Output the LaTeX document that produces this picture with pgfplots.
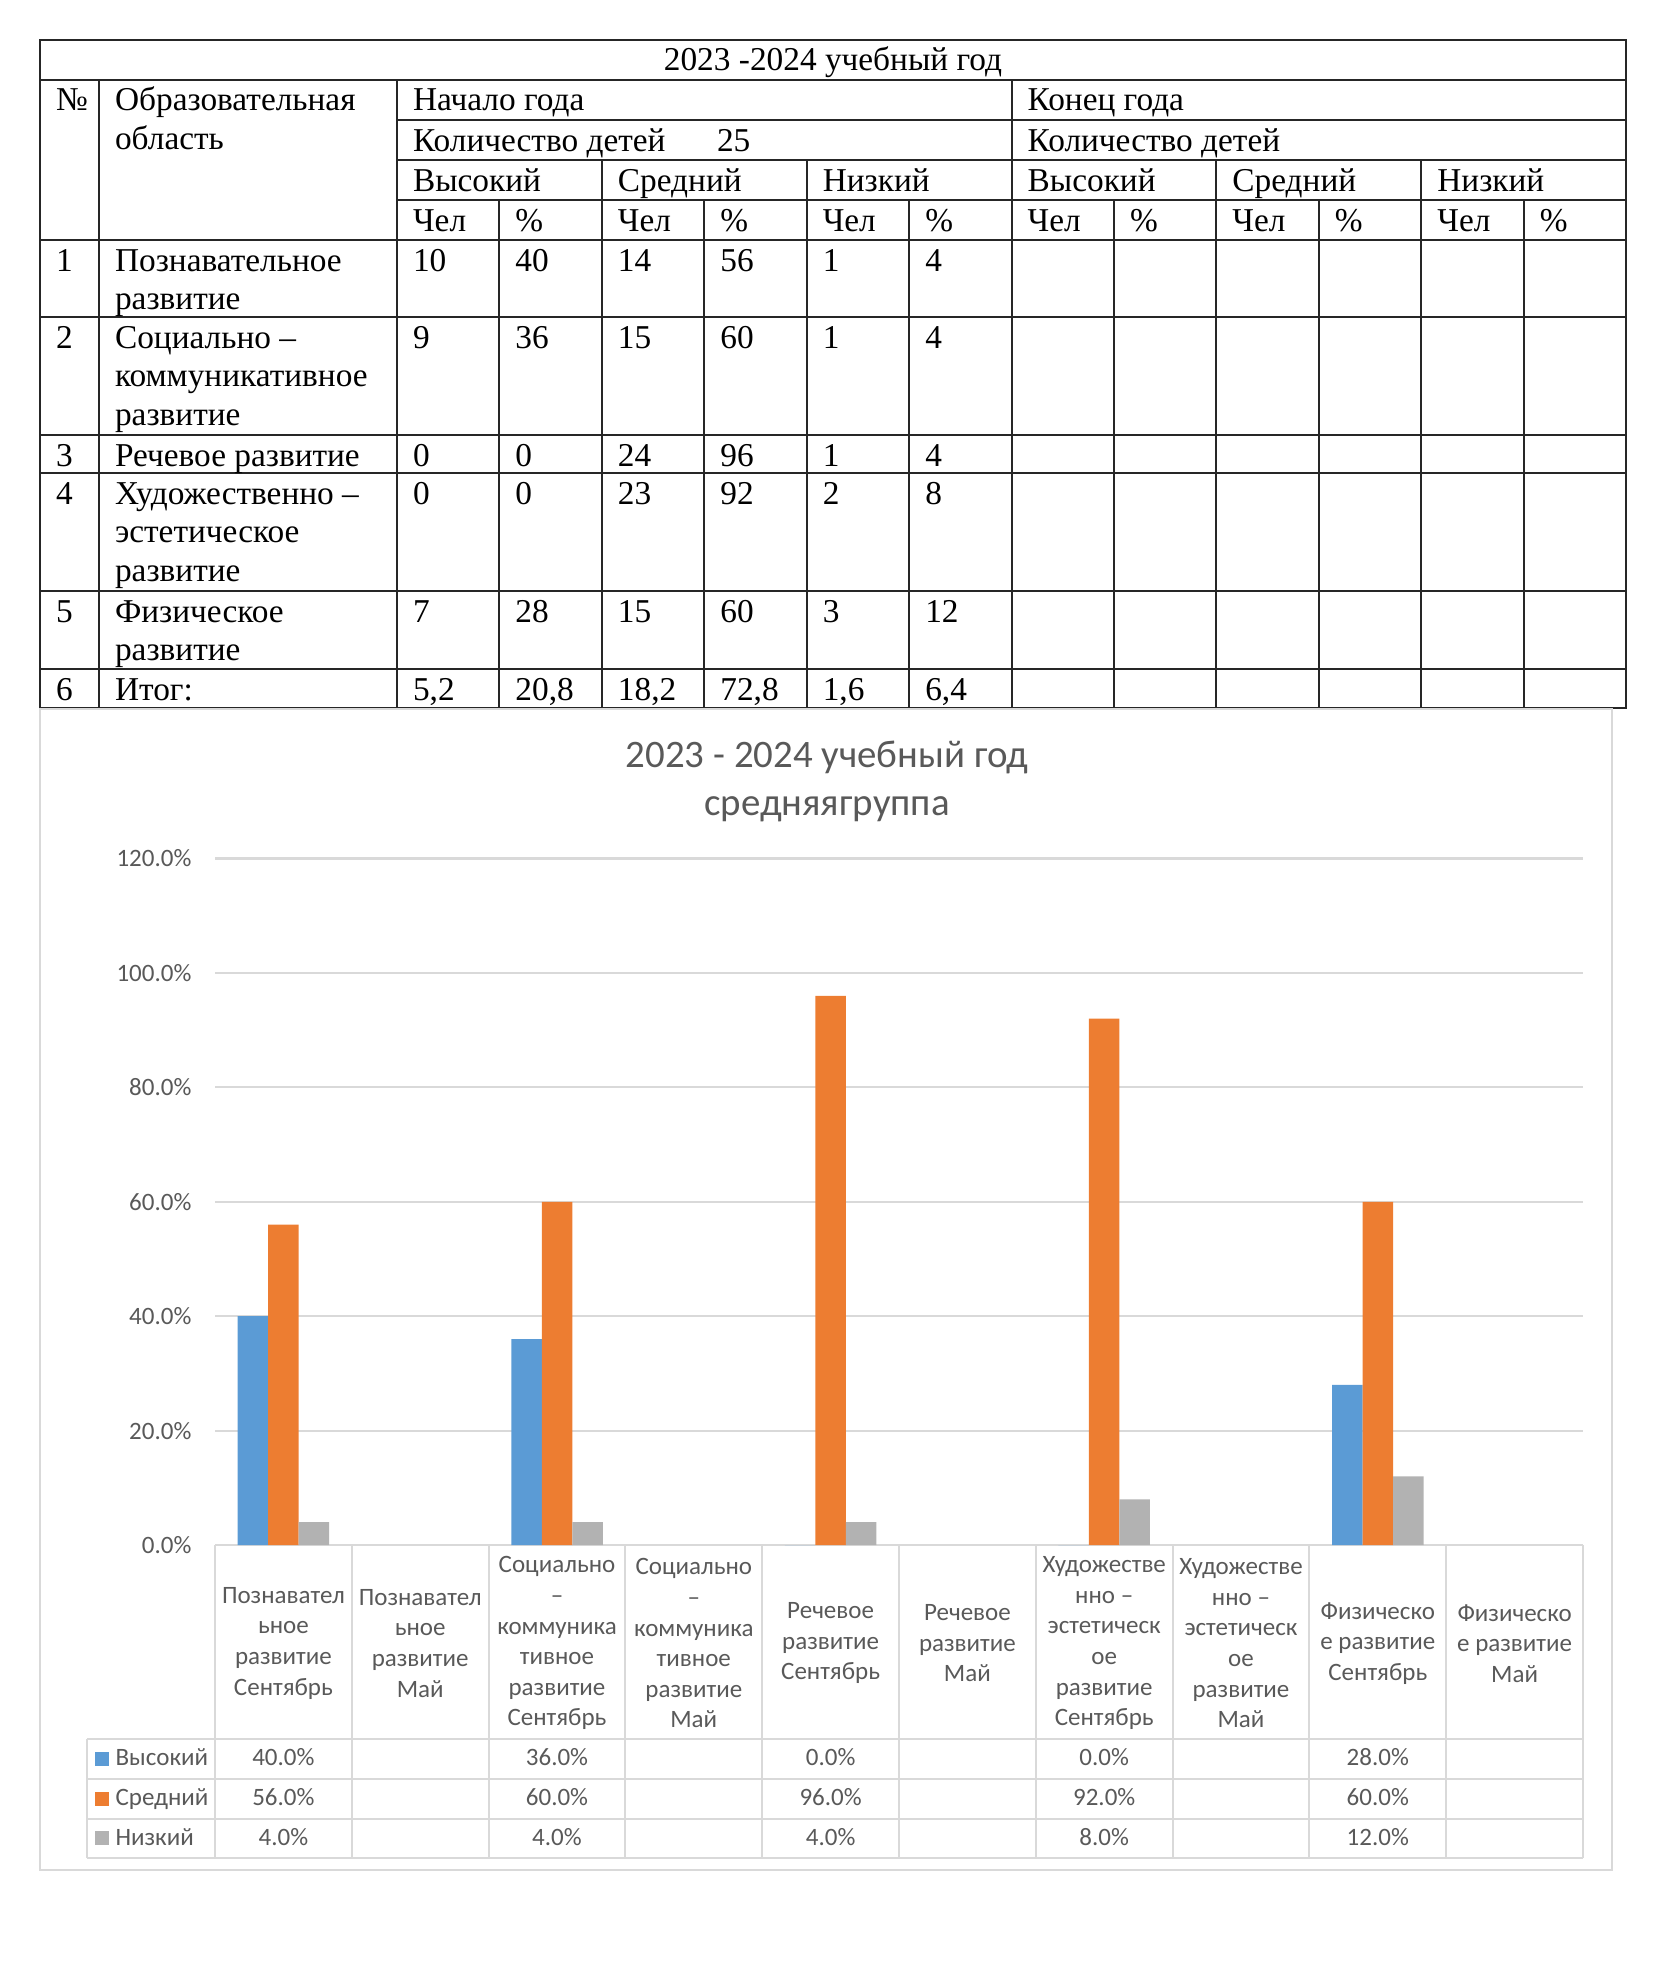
\documentclass[border=0pt]{standalone}
\usepackage{fontspec}
\setmainfont{Liberation Serif}
\newfontfamily\calibri{Carlito}
\usepackage{pgfplots}
\pgfplotsset{compat=1.18}
\definecolor{cblue}{HTML}{5B9BD5}
\definecolor{corange}{HTML}{ED7D31}
\definecolor{cgray}{HTML}{B2B2B2}
\definecolor{txtgray}{HTML}{595959}
\definecolor{linegray}{HTML}{D9D9D9}
\begin{document}
\begin{tikzpicture}
\useasboundingbox (0,0) rectangle (595.44pt,-706.32pt);
\begin{scope}[x=0.36pt,y=-0.36pt]
% ---------- table grid ----------
\begin{scope}[line width=0.7pt, black!85]
\draw (40,40) rectangle (1626,708);
\foreach \y in {80,240,317,435,473,591,669} \draw (40,\y) -- (1626,\y);
\foreach \y in {120,160,200} \draw (397,\y) -- (1626,\y);
\foreach \x in {99,397,1011.6} \draw (\x,80) -- (\x,708);
\foreach \x in {601.9,806.7,1216.4,1421.3} \draw (\x,160) -- (\x,708);
\foreach \x in {499.4,704.3,909.2,1114,1318.9,1523.7} \draw (\x,200) -- (\x,708);
\end{scope}
\tikzset{t/.style={anchor=base west, inner sep=0pt, font=\fontsize{12}{14}\selectfont}}
\node[t, anchor=base] at (833,71) {2023 -2024 учебный год};
\node[t] at (55.5,111) {№};
\node[t] at (114.5,111) {Образовательная};
\node[t] at (114.5,149.6) {область};
\node[t] at (412.5,111) {Начало года};
\node[t] at (1027.1,111) {Конец года};
\node[t] at (412.5,151) {Количество детей};
\node[t] at (716.5,151) {25};
\node[t] at (1027.1,151) {Количество детей};
\foreach \x/\s in {412.5/Высокий,617.4/Средний,822.2/Низкий,1027.1/Высокий,1231.9/Средний,1436.8/Низкий}
  \node[t] at (\x,191) {\s};
\foreach \x in {412.5,617.4,822.2,1027.1,1231.9,1436.8} \node[t] at (\x,231) {Чел};
\foreach \x in {514.9,719.8,924.7,1129.5,1334.4,1539.2} \node[t] at (\x,231) {\%};
% rows
\node[t] at (55.5,271) {1};
\node[t] at (114.5,271) {Познавательное};
\node[t] at (114.5,309.6) {развитие};
\node[t] at (55.5,348) {2};
\node[t] at (114.5,348) {Социально –};
\node[t] at (114.5,386.6) {коммуникативное};
\node[t] at (114.5,425.2) {развитие};
\node[t] at (55.5,466) {3};
\node[t] at (114.5,466) {Речевое развитие};
\node[t] at (55.5,504) {4};
\node[t] at (114.5,504) {Художественно –};
\node[t] at (114.5,542.6) {эстетическое};
\node[t] at (114.5,581.2) {развитие};
\node[t] at (55.5,622) {5};
\node[t] at (114.5,622) {Физическое};
\node[t] at (114.5,660.6) {развитие};
\node[t] at (55.5,700) {6};
\node[t] at (114.5,700) {Итог:};
\foreach \x/\s in {412.5/10,514.9/40,617.4/14,719.8/56,822.2/1,924.7/4} \node[t] at (\x,271) {\s};
\foreach \x/\s in {412.5/9,514.9/36,617.4/15,719.8/60,822.2/1,924.7/4} \node[t] at (\x,348) {\s};
\foreach \x/\s in {412.5/0,514.9/0,617.4/24,719.8/96,822.2/1,924.7/4} \node[t] at (\x,466) {\s};
\foreach \x/\s in {412.5/0,514.9/0,617.4/23,719.8/92,822.2/2,924.7/8} \node[t] at (\x,504) {\s};
\foreach \x/\s in {412.5/7,514.9/28,617.4/15,719.8/60,822.2/3,924.7/12} \node[t] at (\x,622) {\s};
\node[t] at (412.5,700) {5,2};
\node[t] at (514.9,700) {20,8};
\node[t] at (617.4,700) {18,2};
\node[t] at (719.8,700) {72,8};
\node[t] at (822.2,700) {1,6};
\node[t] at (924.7,700) {6,4};
% ---------- chart frame and title ----------
\draw[linegray, line width=0.75pt] (40,709) rectangle (1612,1870);
\node[anchor=base, inner sep=0pt, font=\calibri\fontsize{14}{17}\selectfont, text=txtgray] at (827,767) {2023 - 2024 учебный год};
\node[anchor=base, inner sep=0pt, font=\calibri\fontsize{14}{17}\selectfont, text=txtgray] at (827,815) {средняягруппа};
% ---------- data table ----------
\begin{scope}[linegray, line width=0.75pt]
\foreach \k in {0,...,10} \draw ({215+136.8*\k},1545) -- ({215+136.8*\k},1857.6);
\foreach \y in {1738.6,1778.7,1818.8,1857.6} \draw (87,\y) -- (1583,\y);
\draw (87,1738.6) -- (87,1857.6);
\end{scope}
\tikzset{v/.style={anchor=base, inner sep=0pt, font=\calibri\fontsize{9}{11}\selectfont, text=txtgray}}
\fill[cblue] (95,1751.6) rectangle (109,1765.6);
\fill[corange] (95,1791.7) rectangle (109,1805.7);
\fill[cgray] (95,1831.2) rectangle (109,1845.2);
\node[v, anchor=base west] at (115,1765.6) {Высокий};
\node[v, anchor=base west] at (115,1805.7) {Средний};
\node[v, anchor=base west] at (115,1845.2) {Низкий};
\foreach \x/\s in {283.4/40.0,557/36.0,830.6/0.0,1104.2/0.0,1377.8/28.0} \node[v] at (\x,1765.6) {\s\%};
\foreach \x/\s in {283.4/56.0,557/60.0,830.6/96.0,1104.2/92.0,1377.8/60.0} \node[v] at (\x,1805.7) {\s\%};
\foreach \x/\s in {283.4/4.0,557/4.0,830.6/4.0,1104.2/8.0,1377.8/12.0} \node[v] at (\x,1845.2) {\s\%};
\end{scope}
% ---------- chart ----------
\begin{axis}[
  at={(77.4pt,-556.2pt)}, anchor=south west,
  scale only axis, width=492.48pt, height=247.14pt,
  xmin=-0.5, xmax=9.5, ymin=0, ymax=120,
  ybar=0pt, bar width=10.98pt,
  axis line style={draw=none},
  tick style={draw=none},
  ymajorgrids, major grid style={linegray, line width=0.75pt},
  ytick={0,20,40,60,80,100,120},
  yticklabels={0.0\%,20.0\%,40.0\%,60.0\%,80.0\%,100.0\%,120.0\%},
  yticklabel style={font=\calibri\fontsize{9}{11}\selectfont, text=txtgray, anchor=east, inner sep=0pt, xshift=-8.3pt},
  xtick={0,1,2,3,4,5,6,7,8,9},
  xticklabels={{Познавател\\ьное\\развитие\\Сентябрь},{Познавател\\ьное\\развитие\\Май},{Социально\\–\\коммуника\\тивное\\развитие\\Сентябрь},{Социально\\–\\коммуника\\тивное\\развитие\\Май},{Речевое\\развитие\\Сентябрь},{Речевое\\развитие\\Май},{Художестве\\нно –\\эстетическ\\ое\\развитие\\Сентябрь},{Художестве\\нно –\\эстетическ\\ое\\развитие\\Май},{Физическо\\е развитие\\Сентябрь},{Физическо\\е развитие\\Май}},
  xticklabel style={font=\calibri\fontsize{9}{11}\selectfont, text=txtgray, align=center, anchor=center, inner sep=0pt, yshift=-31.1pt},
  clip=false,
]
\addplot[fill=cblue, draw=none] coordinates {(0,40) (2,36) (4,0) (6,0) (8,28)};
\addplot[fill=corange, draw=none] coordinates {(0,56) (2,60) (4,96) (6,92) (8,60)};
\addplot[fill=cgray, draw=none] coordinates {(0,4) (2,4) (4,4) (6,8) (8,12)};
\end{axis}
\end{tikzpicture}
\end{document}
